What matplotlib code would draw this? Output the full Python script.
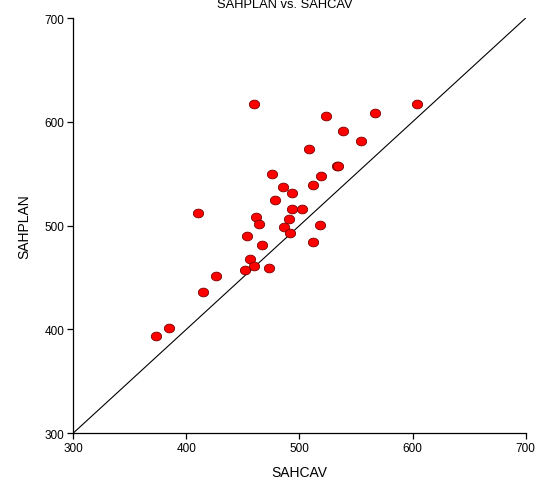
import numpy as np
import matplotlib
matplotlib.use("Agg")
import matplotlib.pyplot as plt
from matplotlib.path import Path

plt.rcParams['font.family'] = ['Liberation Sans', 'DejaVu Sans']

# values
sahcav = [459.7, 603.5, 567.1, 523.2, 538.5, 554.7, 508.2, 533.2, 534.0, 476.1,
          519.4, 512.0, 485.8, 493.5, 478.1, 493.5, 502.6, 410.4, 461.4, 490.8,
          464.0, 518.2, 486.1, 491.7, 454.0, 512.0, 466.7, 456.4, 459.9, 472.9,
          451.7, 426.3, 414.8, 384.5, 373.6]
sahplan = [617.2, 617.2, 608.9, 605.4, 591.0, 581.3, 573.9, 557.2, 557.8, 550.1,
           547.9, 538.9, 537.3, 531.8, 524.8, 516.1, 516.4, 512.2, 508.7, 506.5,
           501.6, 500.7, 498.7, 493.3, 490.4, 484.6, 481.4, 467.9, 460.9, 459.0,
           457.3, 451.2, 436.4, 401.7, 394.0]
ticks = [300, 400, 500, 600, 700]
lims = [300, 700]

# slightly flattened circle as marker
t = np.linspace(0, 2 * np.pi, 60)
ellipse = Path(np.column_stack([np.cos(t), 0.85 * np.sin(t)]), closed=True)

fig = plt.figure(figsize=(5.49, 4.85), dpi=100)
ax = fig.add_axes([0.133, 0.1045, 0.8246, 0.8563])

ax.plot(lims, lims, color='black', lw=0.8, zorder=1)
ax.plot(sahcav, sahplan, ls='none', marker=ellipse, ms=7.4,
        mfc='#ff0000', mec='#7a0000', mew=0.6, zorder=2)

ax.set_xlim(lims)
ax.set_ylim(lims)
ax.set_xticks(ticks)
ax.set_yticks(ticks)
for s in ['top', 'right']:
    ax.spines[s].set_visible(False)
for s in ['left', 'bottom']:
    ax.spines[s].set_linewidth(0.9)
ax.tick_params(direction='out', length=4, width=0.9, labelsize=8.5, pad=2)
ax.set_xlabel('SAHCAV', fontsize=10, labelpad=8)
ax.set_ylabel('SAHPLAN', fontsize=10, labelpad=10)
fig.text(0.519, 1 - 5 / 485, 'SAHPLAN vs. SAHCAV', ha='center', va='center',
         fontsize=9.3)

fig.savefig('out.png', dpi=100)
